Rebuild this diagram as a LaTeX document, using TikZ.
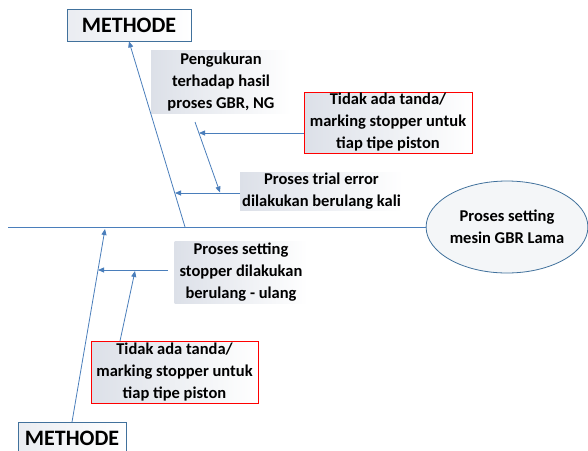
\documentclass[tikz,border=0pt]{standalone}
\usepackage{fontspec}
\setmainfont{Carlito}
\usetikzlibrary{arrows.meta,shapes.geometric}
\definecolor{bone}{HTML}{4A7EBB}
\definecolor{boxline}{HTML}{41719C}
\definecolor{shadeL}{HTML}{DCE0E8}
\begin{document}
\begin{tikzpicture}[x=1pt,y=-1pt,
  font=\bfseries\fontsize{16.5}{22}\selectfont,
  arr/.style={draw=bone,line width=0.8pt,-{Triangle[length=6pt,width=5pt]}},
  ln/.style={draw=bone,line width=0.8pt},
  lbl/.style={left color=shadeL,right color=white,shading angle=90,inner sep=0pt,align=center,text=black},
  redbox/.style={draw=red,line width=0.8pt,left color=shadeL,right color=white,inner sep=0pt,align=center},
  methbox/.style={draw=boxline,line width=0.8pt,left color=shadeL!60,right color=white,inner sep=0pt,font=\bfseries\fontsize{22}{24}\selectfont},
  ell/.style={ellipse,draw=boxline,line width=0.8pt,fill=shadeL!30,inner sep=0pt,align=center}
  ]
\useasboundingbox (0,0) rectangle (588,450);
\clip (0,0) rectangle (588,450);
% nodes
\node[methbox,minimum width=124pt,minimum height=32pt] (m1) at (129,25) {METHODE};
\node[ell,minimum width=158pt,minimum height=92pt] (e) at (507,227) {Proses setting\\mesin GBR Lama};
\node[lbl,minimum width=140pt,minimum height=63pt] (l1) at (221,82) {Pengukuran\\terhadap hasil\\proses GBR, NG};
\node[redbox,minimum width=168pt,minimum height=61pt] (r1) at (388,122.5) {Tidak ada tanda/\\marking stopper untuk\\tiap tipe piston};
\node[lbl,minimum width=163pt,minimum height=38pt] (l2) at (321.5,191) {Proses trial error\\dilakukan berulang kali};
\node[lbl,minimum width=133pt,minimum height=62pt] (l3) at (241,272) {Proses setting\\stopper dilakukan\\berulang - ulang};
\node[redbox,minimum width=167pt,minimum height=62pt] (r2) at (174.5,372) {Tidak ada tanda/\\marking stopper untuk\\tiap tipe piston};
\node[methbox,minimum width=108pt,minimum height=32pt] (m2) at (72,438) {METHODE};
% coordinates
\coordinate (s0) at (8,227);
\coordinate (b1) at (185,227);
\coordinate (d1s) at (195,122);
\coordinate (d1e) at (220,192.5);
\coordinate (c1) at (199,133);
\coordinate (h2s) at (240,193);
\coordinate (c2) at (175,193);
\coordinate (b2s) at (72,422);
\coordinate (b2e) at (105,229);
\coordinate (h3s) at (168,270);
\coordinate (c3) at (98,270);
\coordinate (d3s) at (120,341);
\coordinate (d3e) at (135,271);
% spine
\draw[ln] (s0) -- (e.west);
% top
\draw[arr] (b1) -- (m1.south);
\draw[arr] (d1s) -- (d1e);
\draw[arr] (r1.west |- c1) -- (c1);
\draw[arr] (h2s) -- (c2);
% bottom
\draw[arr] (b2s) -- (b2e);
\draw[arr] (h3s) -- (c3);
\draw[arr] (d3s) -- (d3e);
\end{tikzpicture}
\end{document}
